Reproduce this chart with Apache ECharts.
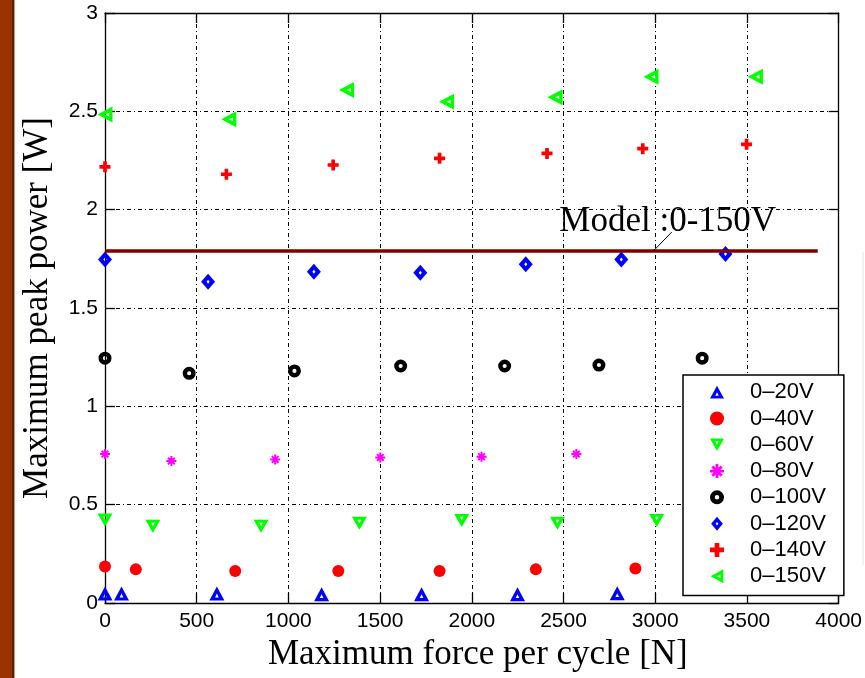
<!DOCTYPE html>
<html>
<head>
<meta charset="utf-8">
<script src="https://cdn.jsdelivr.net/npm/echarts@6/dist/echarts.min.js"></script>
<style>
html,body{margin:0;padding:0;background:#fff;}
#chart{width:865px;height:678px;}
</style>
</head>
<body>
<div id="chart"></div>
<script>
// ---- data ----
const seriesNames = ['0\u201320V','0\u201340V','0\u201360V','0\u201380V','0\u2013100V','0\u2013120V','0\u2013140V','0\u2013150V'];

const force20 = [0, 90, 610, 1181, 1726, 2249, 2793];
const power20 = [0.048, 0.048, 0.048, 0.045, 0.045, 0.045, 0.05];

const force40 = [0, 168, 710, 1272, 1824, 2349, 2892];
const power40 = [0.185, 0.171, 0.163, 0.163, 0.163, 0.171, 0.176];

const force60 = [0, 261, 851, 1387, 1945, 2467, 3008];
const power60 = [0.422, 0.39, 0.39, 0.405, 0.42, 0.405, 0.42];

const force80 = [0, 362, 928, 1501, 2053, 2570];
const power80 = [0.757, 0.722, 0.73, 0.74, 0.744, 0.757];

const force100 = [0, 459, 1033, 1612, 2179, 2693, 3256];
const power100 = [1.245, 1.168, 1.18, 1.205, 1.205, 1.21, 1.245];

const force120 = [0, 562, 1139, 1719, 2294, 2815, 3383];
const power120 = [1.747, 1.633, 1.684, 1.679, 1.723, 1.747, 1.774];

const force140 = [0, 662, 1244, 1824, 2410, 2932, 3498];
const power140 = [2.218, 2.18, 2.227, 2.261, 2.286, 2.31, 2.332];

const force150 = [0, 675, 1317, 1862, 2454, 2977, 3546];
const power150 = [2.484, 2.46, 2.608, 2.549, 2.571, 2.676, 2.676];

const modelForce = [0, 3886];
const modelPower = 1.79;
const modelText = 'Model :0-150V';
const pointerFrom = [2990, 1.79];
const pointerTo = [3090, 1.886];
const textAt = [3068, 1.937];

const xTicks = {min: 0, max: 4000, interval: 500};
const yTicks = {min: 0, max: 3, interval: 0.5};

const xName = 'Maximum force per cycle [N]';
const yName = 'Maximum peak power [W]';

// ---- chart ----
const chart = echarts.init(document.getElementById('chart'), null, {renderer: 'canvas'});

const sans = '"Liberation Sans", Arial, Helvetica, sans-serif';
const serif = '"Liberation Serif", "Times New Roman", serif';

function pairs(xs, ys) { return xs.map((x, i) => [x, ys[i]]); }

// marker shapes (outer outline + reversed inner hole)
const upTri = 'path://M10,0L20,18L0,18Z M10,9L7.6,14L12.4,14Z';
const downTri = 'path://M0,0L20,0L10,18Z M10,9L12.4,4L7.6,4Z';
const leftTri = 'path://M0,10L18,0L18,20Z M9,10L14,12.4L14,7.6Z';
const diamondHollow = 'path://M10,0L20,12L10,24L0,12Z M10,9L7.8,12L10,15L12.2,12Z';
const circleHollow = 'path://M0,10A10,10 0 1 1 20,10A10,10 0 1 1 0,10Z M6.8,10A3.2,3.2 0 1 0 13.2,10A3.2,3.2 0 1 0 6.8,10Z';
const plusPath = 'path://M4,0H8V4H12V8H8V12H4V8H0V4H4Z';
const starPath = 'path://M4,0H6V10H4Z M0,4H10V6H0Z M1,2.4L2.4,1L9,7.6L7.6,9Z M7.6,1L9,2.4L2.4,9L1,7.6Z';

const scatterDefs = [
  {name: seriesNames[0], data: pairs(force20, power20), symbol: upTri, symbolSize: [15, 14], color: '#0000ff'},
  {name: seriesNames[1], data: pairs(force40, power40), symbol: 'circle', symbolSize: 12, color: '#ff0000'},
  {name: seriesNames[2], data: pairs(force60, power60), symbol: downTri, symbolSize: [15, 13], color: '#00ff00'},
  {name: seriesNames[3], data: pairs(force80, power80), symbol: starPath, symbolSize: 10, color: '#ff00ff'},
  {name: seriesNames[4], data: pairs(force100, power100), symbol: circleHollow, symbolSize: 13, color: '#000000'},
  {name: seriesNames[5], data: pairs(force120, power120), symbol: diamondHollow, symbolSize: [14, 16], color: '#0000ff'},
  {name: seriesNames[6], data: pairs(force140, power140), symbol: plusPath, symbolSize: 11, color: '#ff0000'},
  {name: seriesNames[7], data: pairs(force150, power150), symbol: leftTri, symbolSize: [15, 16], color: '#00ff00'}
];

const series = [
  {
    name: 'model', type: 'scatter', data: [], z: 1, silent: true,
    markLine: {
      silent: true, symbol: ['none', 'none'], animation: false,
      label: {show: false},
      data: [
        [{coord: [modelForce[0], modelPower], lineStyle: {color: '#800000', width: 3.5, type: 'solid'}},
         {coord: [modelForce[1], modelPower]}],
        [{coord: pointerFrom, lineStyle: {color: '#000', width: 1, type: 'solid'}},
         {coord: pointerTo}]
      ]
    },
    markPoint: {
      silent: true, animation: false,
      data: [{coord: textAt, symbol: 'circle', symbolSize: 0,
        label: {show: true, position: 'inside', formatter: modelText,
          fontFamily: serif, fontSize: 35, color: '#000'}}]
    }
  }
].concat(scatterDefs.map(d => ({
  type: 'scatter', z: 3, animation: false, name: d.name, data: d.data,
  symbol: d.symbol, symbolSize: d.symbolSize,
  itemStyle: {color: d.color, opacity: 1},
  emphasis: {disabled: true}
})));

const axisLine = {show: true, onZero: false, lineStyle: {color: '#000', width: 1.3}};
const axisTick = {show: true, inside: true, length: 10, lineStyle: {color: '#000', width: 1.3}};
const gridLine = {show: true, lineStyle: {color: '#000', width: 1, type: [4, 3, 1, 3]}};
const plainNum = v => String(v);

chart.setOption({
  animation: false,
  backgroundColor: '#fff',
  grid: {left: 105, right: 13, top: 13, bottom: 75, containLabel: false},
  legend: {
    orient: 'vertical', left: 683, top: 375,
    data: seriesNames,
    backgroundColor: '#fff', borderColor: '#000', borderWidth: 1.5,
    padding: [4, 18, 6, 27],
    itemWidth: 14, itemHeight: 14, itemGap: 0,
    textStyle: {fontFamily: sans, fontSize: 22, color: '#000', lineHeight: 26.3, padding: [0, 0, 0, 21]},
    selectedMode: false
  },
  xAxis: [
    {type: 'value', min: xTicks.min, max: xTicks.max, interval: xTicks.interval, position: 'bottom',
      name: xName, nameLocation: 'middle', nameGap: 30,
      nameTextStyle: {fontFamily: serif, fontSize: 35, color: '#000', padding: [0, 0, 0, 12]},
      axisLine: axisLine, axisTick: axisTick, splitLine: gridLine,
      axisLabel: {fontFamily: sans, fontSize: 21, color: '#000', margin: 8, formatter: plainNum,
        alignMinLabel: 'center', alignMaxLabel: 'center'}},
    {type: 'value', min: xTicks.min, max: xTicks.max, interval: xTicks.interval, position: 'top',
      axisLine: axisLine, axisTick: axisTick, splitLine: {show: false}, axisLabel: {show: false}}
  ],
  yAxis: [
    {type: 'value', min: yTicks.min, max: yTicks.max, interval: yTicks.interval, position: 'left',
      name: yName, nameLocation: 'middle', nameGap: 50, nameRotate: 90,
      nameTextStyle: {fontFamily: serif, fontSize: 35, color: '#000'},
      axisLine: axisLine, axisTick: axisTick, splitLine: gridLine,
      axisLabel: {fontFamily: sans, fontSize: 21, color: '#000', margin: 7, formatter: plainNum}},
    {type: 'value', min: yTicks.min, max: yTicks.max, interval: yTicks.interval, position: 'right',
      axisLine: axisLine, axisTick: axisTick, splitLine: {show: false}, axisLabel: {show: false}}
  ],
  graphic: [
    {type: 'rect', left: 0, top: 0, shape: {width: 12, height: 678}, style: {fill: '#993300'}, z: 100},
    {type: 'rect', left: 12, top: 0, shape: {width: 2, height: 678}, style: {fill: '#5c1f00'}, z: 100},
    {type: 'rect', left: 14, top: 0, shape: {width: 1, height: 678}, style: {fill: '#c89a7a'}, z: 100},
    {type: 'line', shape: {x1: 863, y1: 252, x2: 863, y2: 565}, style: {stroke: '#e4e4e4', lineWidth: 1}, z: 100}
  ],
  series: series
});
</script>
</body>
</html>
